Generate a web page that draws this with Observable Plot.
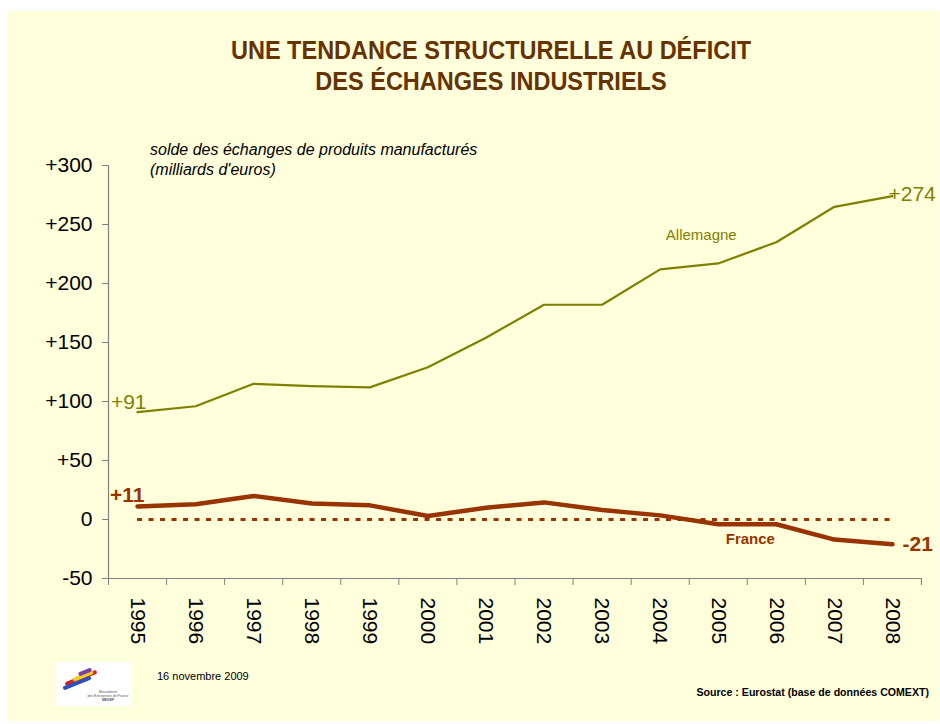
<!DOCTYPE html>
<html>
<head>
<meta charset="utf-8">
<script src="https://cdn.jsdelivr.net/npm/d3@7"></script>
<script src="https://cdn.jsdelivr.net/npm/@observablehq/plot@0.6"></script>
<style>
  html, body { margin: 0; padding: 0; background: #ffffff; }
  body { width: 940px; height: 724px; position: relative; overflow: hidden; font-family: "Liberation Sans", Arial, sans-serif; }
  #panel { position: absolute; left: 7px; top: 11px; width: 932px; height: 710px; background: #ffffdc; }
  #chart { position: absolute; left: 0; top: 0; }
  #title { position: absolute; left: 0; top: 35px; width: 982px; text-align: center; font-weight: bold; font-size: 25px; line-height: 30.5px; color: #663300; transform: scaleX(0.94); transform-origin: center; }
  #subtitle { position: absolute; left: 150px; top: 140px; font-style: italic; font-size: 16px; line-height: 20px; color: #000; white-space: nowrap; }
  #date { position: absolute; left: 157px; top: 670px; font-size: 11px; color: #000; }
  #source { position: absolute; right: 11px; top: 686px; font-size: 10.6px; font-weight: bold; color: #000; }
  #logo { position: absolute; left: 56px; top: 662px; width: 76px; height: 44px; background: #fff; overflow: hidden; }
  #logo .b { position: absolute; height: 4px; border-radius: 2px; transform: rotate(-22deg); }
  #logo .t { position: absolute; left: 30px; width: 44px; font-size: 3.5px; line-height: 4px; color: #556; text-align: center; }
</style>
</head>
<body>
<div id="panel"></div>
<div id="chart"></div>
<div id="title">UNE TENDANCE STRUCTURELLE AU DÉFICIT<br>DES ÉCHANGES INDUSTRIELS</div>
<div id="subtitle">solde des échanges de produits manufacturés<br>(milliards d'euros)</div>
<div id="logo">
  <div class="b" style="left:8px;top:14px;width:34px;background:#d62020"></div>
  <div class="b" style="left:6px;top:19px;width:30px;background:#3050c0"></div>
  <div class="b" style="left:16px;top:12px;width:22px;background:#f0d020"></div>
  <div class="b" style="left:22px;top:8px;width:14px;background:#8040a0"></div>
  <div class="t" style="top:28px">Mouvement<br>des Entreprises de France<br><b>MEDEF</b></div>
</div>
<div id="date">16 novembre 2009</div>
<div id="source">Source : Eurostat (base de données COMEXT)</div>
<script>
const years = [1995, 1996, 1997, 1998, 1999, 2000, 2001, 2002, 2003, 2004, 2005, 2006, 2007, 2008];
const allemagne = [91, 96, 115, 113, 112, 129, 154, 182, 182, 212, 217, 235, 265, 274];
const france = [11, 13, 20, 13.5, 12, 3, 10, 14.5, 8, 3.5, -4, -4, -17, -21];
const yTicks = [-50, 0, 50, 100, 150, 200, 250, 300];
const yTickLabels = ["-50", "0", "+50", "+100", "+150", "+200", "+250", "+300"];
const seriesNames = ["Allemagne", "France"];

const olive = "#808000";
const rust = "#993300";
const gray = "#808080";

const deRows = years.map((year, i) => ({year, value: allemagne[i]}));
const frRows = years.map((year, i) => ({year, value: france[i]}));
const bounds = years.map(y => y - 0.5).concat([years[years.length - 1] + 0.5]);
const fmt = v => (v > 0 ? "+" : "") + v;
const labelOf = new Map(yTicks.map((t, i) => [t, yTickLabels[i]]));

const chart = Plot.plot({
  width: 940,
  height: 724,
  marginLeft: 108,
  marginRight: 19,
  marginTop: 165,
  marginBottom: 146,
  style: {background: "transparent", fontFamily: "'Liberation Sans', Arial, sans-serif", overflow: "visible"},
  x: {type: "linear", domain: [bounds[0], bounds[bounds.length - 1]]},
  y: {domain: [yTicks[0], yTicks[yTicks.length - 1]]},
  marks: [
    Plot.ruleY([0], {x1: years[0], x2: years[years.length - 1], stroke: rust, strokeWidth: 3, strokeDasharray: "5,6.5"}),
    Plot.ruleX([bounds[0]], {stroke: gray, strokeWidth: 1.2}),
    Plot.ruleY([yTicks[0]], {stroke: gray, strokeWidth: 1.2}),
    Plot.axisY({ticks: yTicks, tickFormat: d => labelOf.get(d), tickSize: 6, tickPadding: 10, fontSize: 21, stroke: gray, fill: "#000", label: null}),
    Plot.axisX({ticks: bounds, tickFormat: () => "", tickSize: 7, stroke: gray, label: null}),
    Plot.axisX({ticks: years, tickFormat: d => String(d), tickSize: 0, tickPadding: 19, tickRotate: 90, fontSize: 21, fill: "#000", label: null}),
    Plot.line(deRows, {x: "year", y: "value", stroke: olive, strokeWidth: 2.2}),
    Plot.line(frRows, {x: "year", y: "value", stroke: rust, strokeWidth: 4.5, strokeLinecap: "round", strokeLinejoin: "round"}),
    Plot.text([deRows[0]], {x: "year", y: "value", text: d => fmt(d.value), textAnchor: "end", dx: 9, dy: -10, fill: olive, fontSize: 21}),
    Plot.text([deRows[deRows.length - 1]], {x: "year", y: "value", text: d => fmt(d.value), textAnchor: "start", dx: -4, dy: -2, fill: olive, fontSize: 21}),
    Plot.text([frRows[0]], {x: "year", y: "value", text: d => fmt(d.value), textAnchor: "end", dx: 7, dy: -11, fill: rust, fontSize: 21, fontWeight: "bold"}),
    Plot.text([frRows[frRows.length - 1]], {x: "year", y: "value", text: d => fmt(d.value), textAnchor: "start", dx: 10, dy: 0, fill: rust, fontSize: 21, fontWeight: "bold"}),
    Plot.text([deRows[10]], {x: "year", y: "value", text: () => seriesNames[0], dx: -17, dy: -28, fill: olive, fontSize: 15}),
    Plot.text([frRows[11]], {x: "year", y: "value", text: () => seriesNames[1], dx: -26, dy: 15, fill: rust, fontSize: 15, fontWeight: "bold"})
  ]
});
document.getElementById("chart").appendChild(chart);
</script>
</body>
</html>
